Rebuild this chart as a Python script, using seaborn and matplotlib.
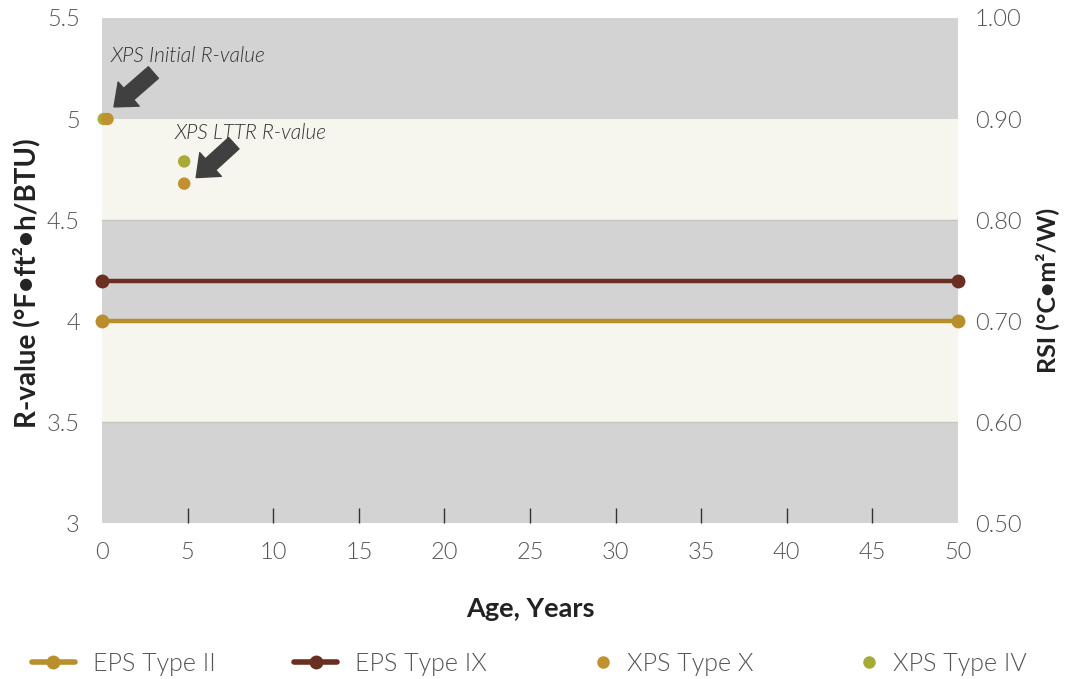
import numpy as np
import pandas as pd
import matplotlib
matplotlib.use('Agg')
import matplotlib.pyplot as plt
from matplotlib.lines import Line2D
from matplotlib.legend_handler import HandlerLine2D
import seaborn as sns

# values
eps_names = ['EPS Type II', 'EPS Type IX']
eps_ages = [0, 50]
eps_type2 = [4.0, 4.0]
eps_type9 = [4.2, 4.2]

xps_x_ages = [0.32, 4.8]
xps_x_vals = [5.0, 4.68]
xps_iv_ages = [0.1, 4.8]
xps_iv_vals = [5.0, 4.79]

x_ticks = list(range(0, 55, 5))
r_ticks = [3, 3.5, 4, 4.5, 5, 5.5]
r_labels = ['3', '3.5', '4', '4.5', '5', '5.5']
rsi_ticks = [0.5, 0.6, 0.7, 0.8, 0.9, 1.0]

colors = {
    'EPS Type II': '#b98f2d',
    'EPS Type IX': '#6a2e22',
    'XPS Type X': '#c1912f',
    'XPS Type IV': '#a8aa38',
}
band_gray = '#d3d3d3'
band_cream = '#f6f6ee'
text_col = '#555555'
LIGHT = 300


class DotRight(HandlerLine2D):
    # legend handle with the marker sitting at the right end
    def create_artists(self, legend, orig_handle, xdescent, ydescent,
                       width, height, fontsize, trans):
        arts = super().create_artists(legend, orig_handle, xdescent, ydescent,
                                      width, height, fontsize, trans)
        for a in arts:
            a.set_xdata(np.full(len(a.get_xdata()), width - 0.25 * fontsize))
        return arts


sns.set_style('white')
plt.rcParams['font.family'] = ['Lato', 'DejaVu Sans']

eps_df = pd.DataFrame({
    'age': eps_ages * 2,
    'r': eps_type2 + eps_type9,
    'product': [eps_names[0]] * 2 + [eps_names[1]] * 2,
})
xps_df = pd.DataFrame({
    'age': xps_iv_ages + xps_x_ages,
    'r': xps_iv_vals + xps_x_vals,
    'product': ['XPS Type IV'] * 2 + ['XPS Type X'] * 2,
})

fig = plt.figure(figsize=(10.65, 6.79), dpi=100)
ax = fig.add_axes([0.0958, 0.2297, 0.8037, 0.7438])

# alternating background bands
for lo, hi in zip(r_ticks[:-1], r_ticks[1:]):
    c = band_cream if lo in (3.5, 4.5) else band_gray
    ax.axhspan(lo, hi, color=c, lw=0, zorder=0)
for y in [3.5, 4.5]:
    ax.axhline(y, color='#c6c6be', lw=1, zorder=0.5)

sns.lineplot(data=eps_df, x='age', y='r', hue='product', palette=colors,
             marker='o', markersize=10, markeredgewidth=0, linewidth=3.2,
             legend=False, ax=ax, zorder=3, clip_on=False)
sns.scatterplot(data=xps_df, x='age', y='r', hue='product', palette=colors,
                s=80, linewidth=0, legend=False, ax=ax, zorder=4,
                clip_on=False)

ax.set_xlim(0, 50)
ax.set_ylim(3, 5.5)
ax.set_xticks(x_ticks)
ax.set_xticklabels([str(t) for t in x_ticks])
ax.xaxis.remove_overlapping_locs = False
ax.set_xticks(x_ticks[1:-1], minor=True)
ax.tick_params(axis='x', which='major', length=0, pad=14, labelsize=17,
               labelcolor=text_col)
ax.tick_params(axis='x', which='minor', direction='in', length=11,
               width=1, color='#333333', bottom=True)
ax.set_yticks(r_ticks)
ax.set_yticklabels(r_labels)
ax.tick_params(axis='y', length=0, pad=16, labelsize=17, labelcolor=text_col)
for lab in ax.get_xticklabels() + ax.get_yticklabels():
    lab.set_fontweight(LIGHT)
for s in ax.spines.values():
    s.set_visible(False)

ax.set_xlabel('Age, Years', fontsize=19.5, fontweight='bold',
              color='#222222', labelpad=24)
ax.set_ylabel('R-value (°F•ft²•h/BTU)', fontsize=20, fontweight='bold',
              color='#222222', labelpad=5)
ax.yaxis.label.set_y(0.475)

ax2 = ax.twinx()
ax2.set_ylim(0.5, 1.0)
ax2.set_yticks(rsi_ticks)
ax2.set_yticklabels([f'{t:.2f}' for t in rsi_ticks])
ax2.tick_params(axis='y', length=0, pad=12, labelsize=17, labelcolor=text_col)
for lab in ax2.get_yticklabels():
    lab.set_fontweight(LIGHT)
for s in ax2.spines.values():
    s.set_visible(False)
ax2.set_ylabel('RSI (°C•m²/W)', fontsize=18, fontweight='bold',
               color='#222222', labelpad=10)
ax2.yaxis.label.set_y(0.46)

# annotations with fat arrows
arrow = dict(arrowstyle='simple,head_length=1.4,head_width=2.3,tail_width=1.1',
             color='#404040', mutation_scale=10, shrinkA=0, shrinkB=0)
ax.annotate('', xy=(0.7, 5.06), xytext=(3.0, 5.23), arrowprops=arrow, zorder=5)
ax.annotate('', xy=(5.5, 4.71), xytext=(7.7, 4.88), arrowprops=arrow, zorder=5)
ax.text(0.47, 5.31, 'XPS Initial R-value', fontsize=15, style='italic',
        fontweight=LIGHT, color='#333333', va='center', zorder=5)
ax.text(4.26, 4.93, 'XPS LTTR R-value', fontsize=15, style='italic',
        fontweight=LIGHT, color='#333333', va='center', zorder=5)

h_eps2 = Line2D([], [], color=colors['EPS Type II'], lw=4, marker='o', ms=10,
                mew=0)
h_eps9 = Line2D([], [], color=colors['EPS Type IX'], lw=4, marker='o', ms=10,
                mew=0)
h_xpsx = Line2D([], [], color=colors['XPS Type X'], lw=0, marker='o', ms=9,
                mew=0)
h_xps4 = Line2D([], [], color=colors['XPS Type IV'], lw=0, marker='o', ms=9,
                mew=0)
leg = fig.legend([h_eps2, h_eps9, h_xpsx, h_xps4],
                 ['EPS Type II', 'EPS Type IX', 'XPS Type X', 'XPS Type IV'],
                 handler_map={h_xpsx: DotRight(), h_xps4: DotRight()},
                 loc='center', bbox_to_anchor=(0.497, 0.022), ncol=4,
                 frameon=False, fontsize=18, handlelength=1.72,
                 columnspacing=3.15, handletextpad=0.72)
for t in leg.get_texts():
    t.set_color(text_col)
    t.set_fontweight(LIGHT)

fig.savefig('out.png', dpi=100)
